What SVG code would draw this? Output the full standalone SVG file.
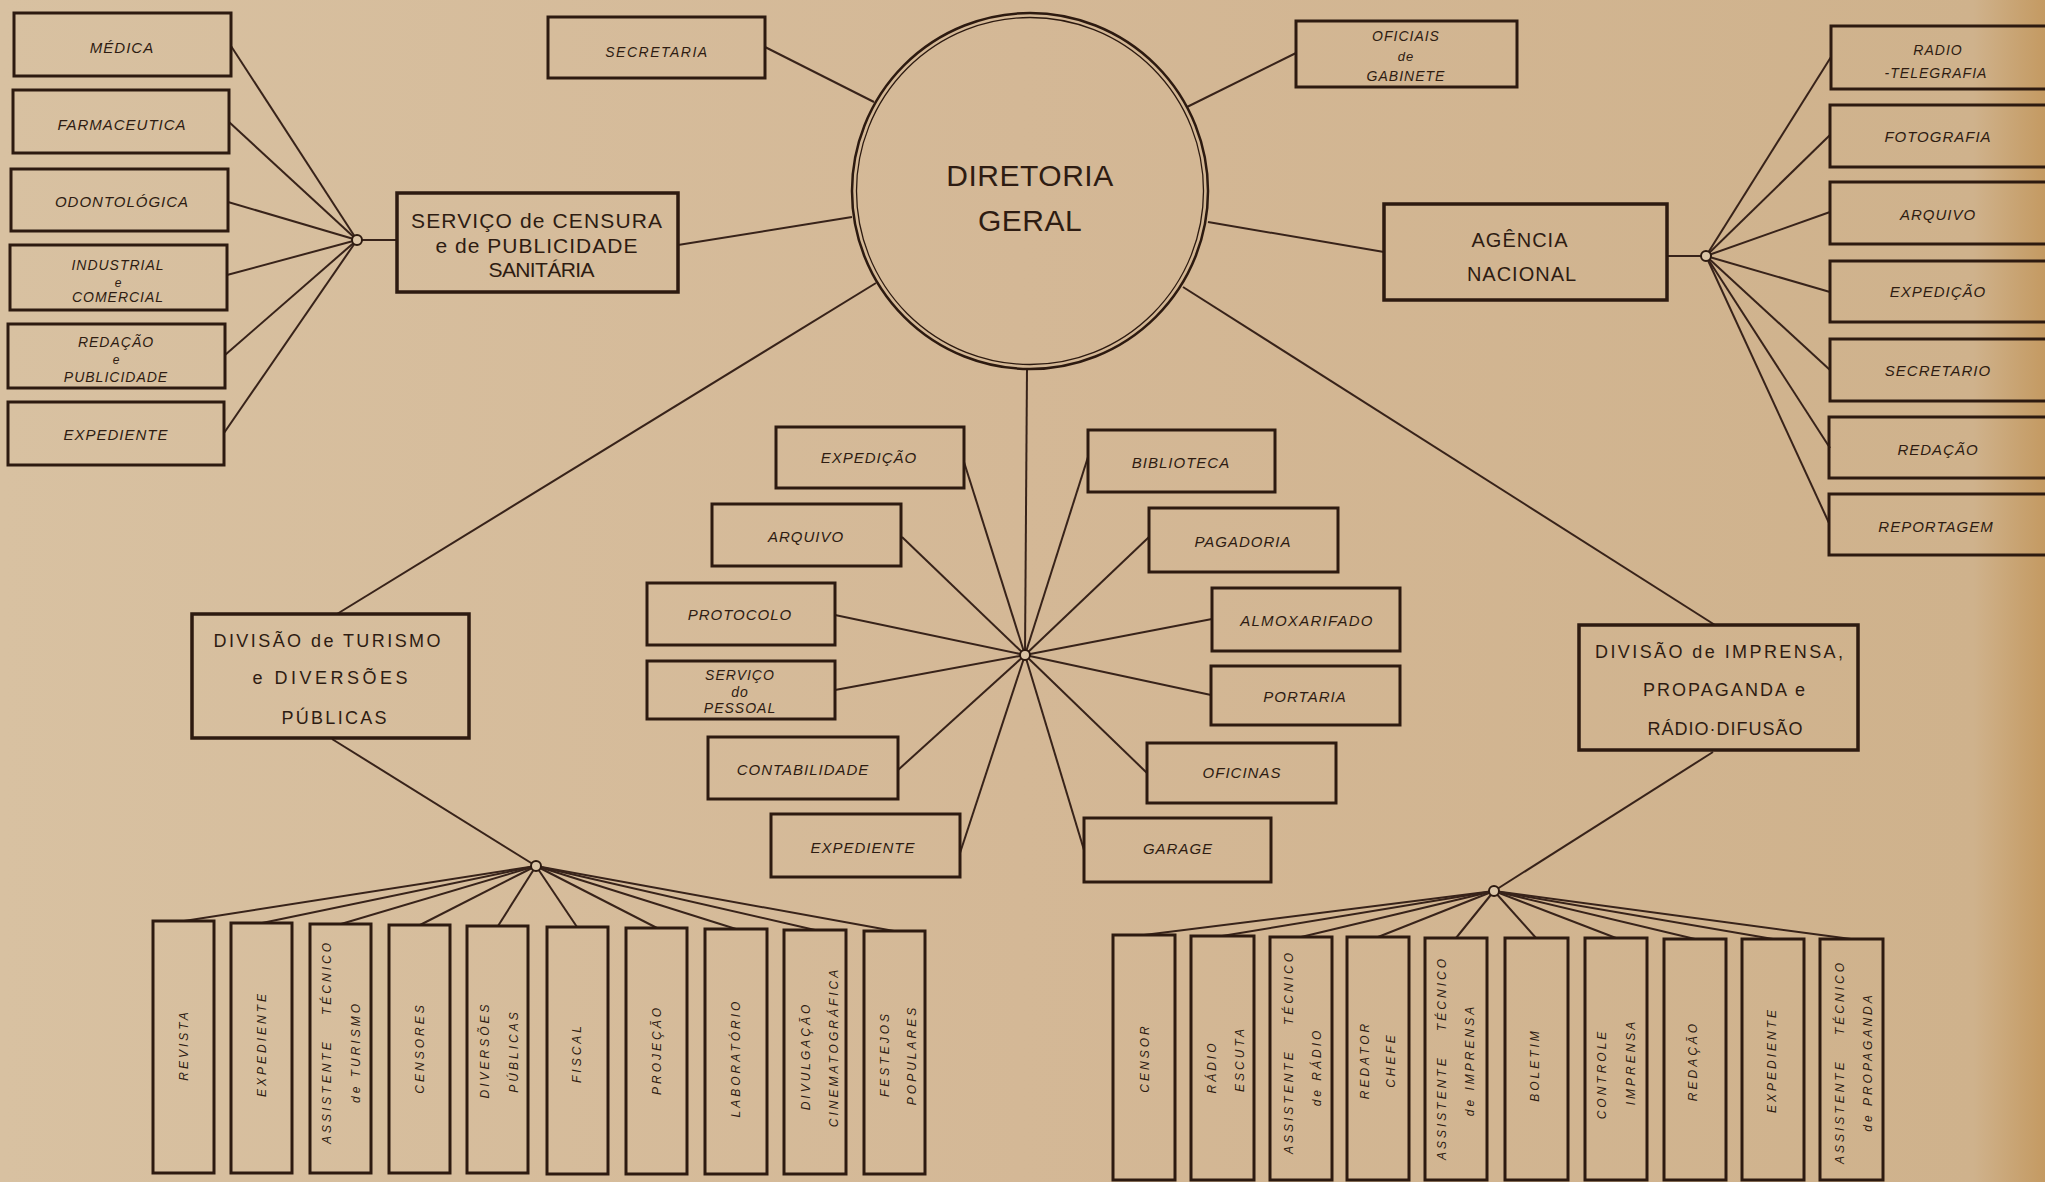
<svg xmlns="http://www.w3.org/2000/svg" width="2045" height="1182" viewBox="0 0 2045 1182">
<defs>
<linearGradient id="paper" x1="0" y1="0" x2="1" y2="0">
<stop offset="0" stop-color="#d8c1a1"/>
<stop offset="0.5" stop-color="#d4b896"/>
<stop offset="0.965" stop-color="#cfb28c"/>
<stop offset="1" stop-color="#c49a62"/>
</linearGradient>
<style>
.bx{fill:none;stroke:#2d1a10;stroke-width:3}
.dv{fill:none;stroke:#2d1a10;stroke-width:3.5}
.cn line{stroke:#38231a;stroke-width:2}
.jn{fill:#dcc6a8;stroke:#2d1a10;stroke-width:2}
text{font-family:"Liberation Sans",Arial,sans-serif;fill:#2e1c12;text-anchor:middle}
.s{font-size:15px;font-style:italic;letter-spacing:1px}
.t{font-size:14px;font-style:italic;letter-spacing:1px}
.e{font-size:12px;font-style:italic}
.m{font-size:21px;letter-spacing:1px}
.d{font-size:18px}
.v{font-size:12px;font-style:italic;letter-spacing:3px;dominant-baseline:central}
.w{word-spacing:18px}
</style>
</defs>
<rect x="0" y="0" width="2045" height="1182" fill="url(#paper)"/>

<g id="connectors" class="cn">
<line x1="357" y1="240" x2="231" y2="46"/>
<line x1="357" y1="240" x2="229" y2="122"/>
<line x1="357" y1="240" x2="228" y2="202"/>
<line x1="357" y1="240" x2="227" y2="275"/>
<line x1="357" y1="240" x2="225" y2="355"/>
<line x1="357" y1="240" x2="224" y2="433"/>
<line x1="357" y1="240" x2="396" y2="240"/>
<line x1="678" y1="245" x2="852" y2="217"/>
<line x1="765" y1="47" x2="874" y2="102"/>
<line x1="1187" y1="107" x2="1296" y2="53"/>
<line x1="1208" y1="222" x2="1384" y2="252"/>
<line x1="876" y1="283" x2="337" y2="614"/>
<line x1="1183" y1="287" x2="1715" y2="625"/>
<line x1="1027" y1="368" x2="1025" y2="655"/>
<line x1="1667" y1="256" x2="1706" y2="256"/>
<line x1="1706" y1="256" x2="1831" y2="57"/>
<line x1="1706" y1="256" x2="1830" y2="135"/>
<line x1="1706" y1="256" x2="1830" y2="212"/>
<line x1="1706" y1="256" x2="1830" y2="292"/>
<line x1="1706" y1="256" x2="1830" y2="370"/>
<line x1="1706" y1="256" x2="1830" y2="448"/>
<line x1="1706" y1="256" x2="1829" y2="523"/>
<line x1="1025" y1="655" x2="964" y2="462"/>
<line x1="1025" y1="655" x2="902" y2="537"/>
<line x1="1025" y1="655" x2="835" y2="615"/>
<line x1="1025" y1="655" x2="835" y2="690"/>
<line x1="1025" y1="655" x2="898" y2="770"/>
<line x1="1025" y1="655" x2="960" y2="853"/>
<line x1="1025" y1="655" x2="1088" y2="457"/>
<line x1="1025" y1="655" x2="1149" y2="537"/>
<line x1="1025" y1="655" x2="1212" y2="619"/>
<line x1="1025" y1="655" x2="1211" y2="695"/>
<line x1="1025" y1="655" x2="1147" y2="773"/>
<line x1="1025" y1="655" x2="1084" y2="850"/>
<line x1="332" y1="739" x2="536" y2="866"/>
<line x1="536" y1="866" x2="184" y2="921"/>
<line x1="536" y1="866" x2="262" y2="923"/>
<line x1="536" y1="866" x2="341" y2="924"/>
<line x1="536" y1="866" x2="420" y2="925"/>
<line x1="536" y1="866" x2="498" y2="926"/>
<line x1="536" y1="866" x2="577" y2="927"/>
<line x1="536" y1="866" x2="657" y2="928"/>
<line x1="536" y1="866" x2="736" y2="929"/>
<line x1="536" y1="866" x2="815" y2="930"/>
<line x1="536" y1="866" x2="894" y2="931"/>
<line x1="1713" y1="752" x2="1494" y2="891"/>
<line x1="1494" y1="891" x2="1144" y2="935"/>
<line x1="1494" y1="891" x2="1222" y2="936"/>
<line x1="1494" y1="891" x2="1301" y2="937"/>
<line x1="1494" y1="891" x2="1378" y2="937"/>
<line x1="1494" y1="891" x2="1456" y2="938"/>
<line x1="1494" y1="891" x2="1536" y2="938"/>
<line x1="1494" y1="891" x2="1616" y2="938"/>
<line x1="1494" y1="891" x2="1695" y2="939"/>
<line x1="1494" y1="891" x2="1773" y2="939"/>
<line x1="1494" y1="891" x2="1851" y2="939"/>
</g>

<g id="junctions">
<circle class="jn" cx="357" cy="240" r="5"/>
<circle class="jn" cx="1706" cy="256" r="5"/>
<circle class="jn" cx="1025" cy="655" r="5"/>
<circle class="jn" cx="536" cy="866" r="5"/>
<circle class="jn" cx="1494" cy="891" r="5"/>
</g>

<g id="diretoria-geral">
<circle cx="1030" cy="191" r="178" fill="none" stroke="#2d1a10" stroke-width="2.5"/>
<circle cx="1030" cy="191" r="173.5" fill="none" stroke="#2d1a10" stroke-width="1.3"/>
<text x="1030" y="186" style="font-size:30px;letter-spacing:0.5px">DIRETORIA</text>
<text x="1030" y="231" style="font-size:30px;letter-spacing:0.5px">GERAL</text>
</g>

<g id="secretaria"><rect class="bx" x="548" y="17" width="217" height="61"/><text class="t" x="657" y="57" style="letter-spacing:1.5px">SECRETARIA</text></g>
<g id="oficiais-gabinete"><rect class="bx" x="1296" y="21" width="221" height="66"/>
<text class="t" x="1406" y="41">OFICIAIS</text><text class="t" x="1406" y="61" style="font-size:13px">de</text><text class="t" x="1406" y="81">GABINETE</text></g>

<g id="servico-censura"><rect class="dv" x="397" y="193" width="281" height="99"/>
<text class="m" x="537" y="228" textLength="252" lengthAdjust="spacing">SERVIÇO de CENSURA</text>
<text class="m" x="537" y="253" textLength="203" lengthAdjust="spacing">e de PUBLICIDADE</text>
<text class="m" x="542" y="277" textLength="107" lengthAdjust="spacing">SANITÁRIA</text></g>

<g id="agencia-nacional"><rect class="dv" x="1384" y="204" width="283" height="96"/>
<text class="m" x="1520" y="247" style="font-size:20px">AGÊNCIA</text>
<text class="m" x="1522" y="281" style="font-size:20px">NACIONAL</text></g>

<g id="medica"><rect class="bx" x="14" y="13" width="217" height="63"/><text class="s" x="122" y="53">MÉDICA</text></g>
<g id="farmaceutica"><rect class="bx" x="13" y="90" width="216" height="63"/><text class="s" x="122" y="130">FARMACEUTICA</text></g>
<g id="odontologica"><rect class="bx" x="11" y="169" width="217" height="62"/><text class="s" x="122" y="207">ODONTOLÓGICA</text></g>
<g id="industrial-comercial"><rect class="bx" x="10" y="245" width="217" height="65"/>
<text class="t" x="118" y="270">INDUSTRIAL</text><text class="e" x="118" y="287">e</text><text class="t" x="118" y="302">COMERCIAL</text></g>
<g id="redacao-publicidade"><rect class="bx" x="8" y="324" width="217" height="64"/>
<text class="t" x="116" y="347">REDAÇÃO</text><text class="e" x="116" y="364">e</text><text class="t" x="116" y="382">PUBLICIDADE</text></g>
<g id="expediente-l"><rect class="bx" x="8" y="402" width="216" height="63"/><text class="s" x="116" y="440">EXPEDIENTE</text></g>

<g id="radio-telegrafia"><rect class="bx" x="1831" y="26" width="230" height="63"/>
<text class="t" x="1938" y="55">RADIO</text><text class="t" x="1936" y="78">-TELEGRAFIA</text></g>
<g id="fotografia"><rect class="bx" x="1830" y="105" width="230" height="62"/><text class="s" x="1938" y="142">FOTOGRAFIA</text></g>
<g id="arquivo-r"><rect class="bx" x="1830" y="182" width="230" height="62"/><text class="s" x="1938" y="220">ARQUIVO</text></g>
<g id="expedicao-r"><rect class="bx" x="1830" y="261" width="230" height="61"/><text class="s" x="1938" y="297">EXPEDIÇÃO</text></g>
<g id="secretario"><rect class="bx" x="1830" y="339" width="230" height="62"/><text class="s" x="1938" y="376">SECRETARIO</text></g>
<g id="redacao-r"><rect class="bx" x="1829" y="417" width="230" height="61"/><text class="s" x="1938" y="455">REDAÇÃO</text></g>
<g id="reportagem"><rect class="bx" x="1829" y="494" width="230" height="61"/><text class="s" x="1936" y="532">REPORTAGEM</text></g>

<g id="expedicao-c"><rect class="bx" x="776" y="427" width="188" height="61"/><text class="s" x="869" y="463">EXPEDIÇÃO</text></g>
<g id="arquivo-c"><rect class="bx" x="712" y="504" width="189" height="62"/><text class="s" x="806" y="542">ARQUIVO</text></g>
<g id="protocolo"><rect class="bx" x="647" y="583" width="188" height="62"/><text class="s" x="740" y="620">PROTOCOLO</text></g>
<g id="servico-pessoal"><rect class="bx" x="647" y="661" width="188" height="58"/>
<text class="t" x="740" y="680">SERVIÇO</text><text class="t" x="740" y="697">do</text><text class="t" x="740" y="713">PESSOAL</text></g>
<g id="contabilidade"><rect class="bx" x="708" y="737" width="190" height="62"/><text class="s" x="803" y="775">CONTABILIDADE</text></g>
<g id="expediente-c"><rect class="bx" x="771" y="814" width="189" height="63"/><text class="s" x="863" y="853">EXPEDIENTE</text></g>
<g id="biblioteca"><rect class="bx" x="1088" y="430" width="187" height="62"/><text class="s" x="1181" y="468">BIBLIOTECA</text></g>
<g id="pagadoria"><rect class="bx" x="1149" y="508" width="189" height="64"/><text class="s" x="1243" y="547">PAGADORIA</text></g>
<g id="almoxarifado"><rect class="bx" x="1212" y="588" width="188" height="63"/><text class="s" x="1307" y="626" style="letter-spacing:1.3px">ALMOXARIFADO</text></g>
<g id="portaria"><rect class="bx" x="1211" y="666" width="189" height="59"/><text class="s" x="1305" y="702">PORTARIA</text></g>
<g id="oficinas"><rect class="bx" x="1147" y="743" width="189" height="60"/><text class="s" x="1242" y="778">OFICINAS</text></g>
<g id="garage"><rect class="bx" x="1084" y="818" width="187" height="64"/><text class="s" x="1178" y="854">GARAGE</text></g>

<g id="divisao-turismo"><rect class="dv" x="192" y="614" width="277" height="124"/>
<text class="d" x="327" y="647" textLength="227" lengthAdjust="spacing">DIVISÃO de TURISMO</text>
<text class="d" x="330" y="684" textLength="155" lengthAdjust="spacing">e DIVERSÕES</text>
<text class="d" x="334" y="724" textLength="105" lengthAdjust="spacing">PÚBLICAS</text></g>

<g id="divisao-imprensa"><rect class="dv" x="1579" y="625" width="279" height="125"/>
<text class="d" x="1719" y="658" textLength="248" lengthAdjust="spacing">DIVISÃO de IMPRENSA,</text>
<text class="d" x="1724" y="696" textLength="162" lengthAdjust="spacing">PROPAGANDA e</text>
<text class="d" x="1725" y="735" textLength="155" lengthAdjust="spacing">RÁDIO·DIFUSÃO</text></g>

<g id="revista"><rect class="bx" x="153" y="921" width="61" height="252"/><text class="v" transform="translate(184 1045) rotate(-90)">REVISTA</text></g>
<g id="expediente-t"><rect class="bx" x="231" y="923" width="61" height="250"/><text class="v" transform="translate(262 1044) rotate(-90)">EXPEDIENTE</text></g>
<g id="assistente-turismo"><rect class="bx" x="310" y="924" width="61" height="249"/>
<text class="v w" transform="translate(327 1042) rotate(-90)">ASSISTENTE TÉCNICO</text><text class="v" transform="translate(356 1052) rotate(-90)">de TURISMO</text></g>
<g id="censores"><rect class="bx" x="389" y="925" width="61" height="248"/><text class="v" transform="translate(420 1048) rotate(-90)">CENSORES</text></g>
<g id="diversoes-publicas"><rect class="bx" x="467" y="926" width="61" height="247"/>
<text class="v" transform="translate(485 1050) rotate(-90)">DIVERSÕES</text><text class="v" transform="translate(514 1051) rotate(-90)">PÚBLICAS</text></g>
<g id="fiscal"><rect class="bx" x="547" y="927" width="61" height="247"/><text class="v" transform="translate(577 1053) rotate(-90)">FISCAL</text></g>
<g id="projecao"><rect class="bx" x="626" y="928" width="61" height="246"/><text class="v" transform="translate(657 1050) rotate(-90)">PROJEÇÃO</text></g>
<g id="laboratorio"><rect class="bx" x="705" y="929" width="62" height="245"/><text class="v" transform="translate(736 1058) rotate(-90)">LABORATÓRIO</text></g>
<g id="divulgacao"><rect class="bx" x="784" y="930" width="62" height="244"/>
<text class="v" transform="translate(806 1056) rotate(-90)">DIVULGAÇÃO</text><text class="v" transform="translate(834 1047) rotate(-90)">CINEMATOGRÁFICA</text></g>
<g id="festejos"><rect class="bx" x="864" y="931" width="61" height="243"/>
<text class="v" transform="translate(885 1054) rotate(-90)">FESTEJOS</text><text class="v" transform="translate(912 1055) rotate(-90)">POPULARES</text></g>

<g id="censor"><rect class="bx" x="1113" y="935" width="62" height="245"/><text class="v" transform="translate(1145 1058) rotate(-90)">CENSOR</text></g>
<g id="radio-escuta"><rect class="bx" x="1191" y="936" width="63" height="244"/>
<text class="v" transform="translate(1212 1067) rotate(-90)">RÁDIO</text><text class="v" transform="translate(1240 1059) rotate(-90)">ESCUTA</text></g>
<g id="assistente-radio"><rect class="bx" x="1270" y="937" width="62" height="243"/>
<text class="v w" transform="translate(1289 1052) rotate(-90)">ASSISTENTE TÉCNICO</text><text class="v" transform="translate(1317 1067) rotate(-90)">de RÁDIO</text></g>
<g id="redator-chefe"><rect class="bx" x="1347" y="937" width="62" height="243"/>
<text class="v" transform="translate(1365 1060) rotate(-90)">REDATOR</text><text class="v" transform="translate(1391 1060) rotate(-90)">CHEFE</text></g>
<g id="assistente-imprensa"><rect class="bx" x="1425" y="938" width="62" height="242"/>
<text class="v w" transform="translate(1442 1058) rotate(-90)">ASSISTENTE TÉCNICO</text><text class="v" transform="translate(1470 1060) rotate(-90)">de IMPRENSA</text></g>
<g id="boletim"><rect class="bx" x="1505" y="938" width="63" height="242"/><text class="v" transform="translate(1535 1065) rotate(-90)">BOLETIM</text></g>
<g id="controle-imprensa"><rect class="bx" x="1585" y="938" width="62" height="242"/>
<text class="v" transform="translate(1602 1074) rotate(-90)">CONTROLE</text><text class="v" transform="translate(1631 1062) rotate(-90)">IMPRENSA</text></g>
<g id="redacao-b"><rect class="bx" x="1664" y="939" width="62" height="241"/><text class="v" transform="translate(1693 1061) rotate(-90)">REDAÇÃO</text></g>
<g id="expediente-b"><rect class="bx" x="1742" y="939" width="62" height="241"/><text class="v" transform="translate(1772 1060) rotate(-90)">EXPEDIENTE</text></g>
<g id="assistente-propaganda"><rect class="bx" x="1820" y="939" width="63" height="241"/>
<text class="v w" transform="translate(1840 1062) rotate(-90)">ASSISTENTE TÉCNICO</text><text class="v" transform="translate(1868 1062) rotate(-90)">de PROPAGANDA</text></g>
</svg>
